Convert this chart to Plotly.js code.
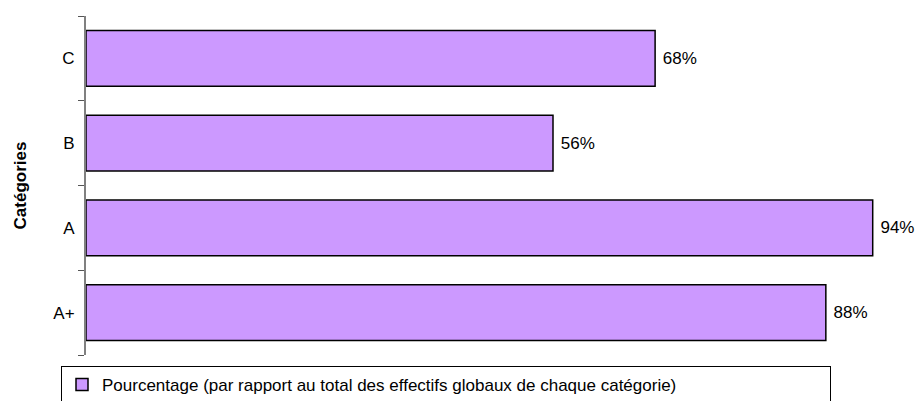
<!DOCTYPE html>
<html>
<head>
<meta charset="utf-8">
<script src="https://cdn.plot.ly/plotly-3.0.1.min.js"></script>
<style>html,body{margin:0;padding:0;background:#fff;}#chart{width:922px;height:401px;}</style>
</head>
<body>
<div id="chart"></div>
<script>
const categories = ["A+", "A", "B", "C"];
const values = [88.4, 94, 55.8, 68];
const seriesName = "Pourcentage (par rapport au total des effectifs globaux de chaque catégorie)";
const axisTitle = "Catégories";

const trace = {
  type: "bar",
  orientation: "h",
  y: categories,
  x: values,
  name: seriesName,
  marker: {color: "#CC99FF", line: {color: "#000000", width: 1.5}},
  texttemplate: "\u00a0%{x:.0f}%",
  textposition: "outside",
  textfont: {family: "Liberation Sans, Arial, sans-serif", size: 17, color: "#000"},
  cliponaxis: false,
  showlegend: true,
  hoverinfo: "none"
};

const layout = {
  width: 922,
  height: 401,
  margin: {l: 86, r: 20, t: 16, b: 46, autoexpand: false},
  paper_bgcolor: "#fff",
  plot_bgcolor: "#fff",
  font: {family: "Liberation Sans, Arial, sans-serif", size: 17, color: "#000"},
  bargap: 0.34,
  xaxis: {
    range: [0, 97.5],
    visible: false,
    showgrid: false,
    zeroline: false
  },
  yaxis: {
    type: "category",
    categoryorder: "array",
    categoryarray: categories,
    showline: true,
    linecolor: "#808080",
    linewidth: 2,
    ticks: "outside",
    tickson: "boundaries",
    ticklen: 6,
    tickcolor: "#555",
    tickwidth: 1,
    ticklabelstandoff: 6,
    showgrid: false,
    zeroline: false,
    tickfont: {size: 17},
    title: {text: "<b>" + axisTitle + "</b>", font: {size: 17}, standoff: 22}
  },
  showlegend: true,
  legend: {
    orientation: "h",
    xref: "container",
    yref: "container",
    x: 61 / 922,
    xanchor: "left",
    y: 1 - 366 / 401,
    yanchor: "top",
    bordercolor: "#000",
    borderwidth: 1,
    bgcolor: "#fff",
    entrywidth: 723,
    font: {size: 17}
  }
};

Plotly.newPlot("chart", [trace], layout, {staticPlot: true, displayModeBar: false});
</script>
</body>
</html>
